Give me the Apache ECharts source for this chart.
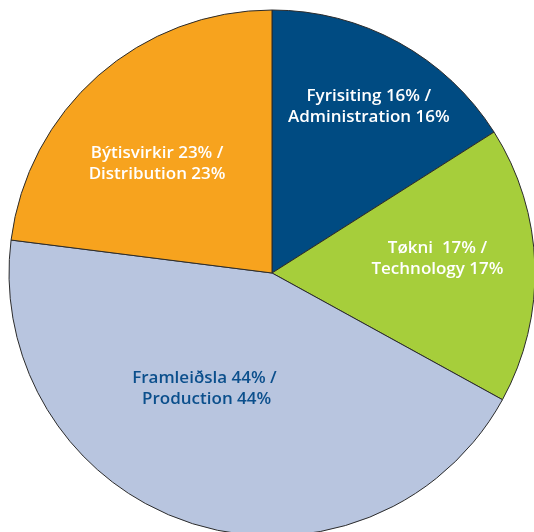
<!DOCTYPE html>
<html>
<head>
<meta charset="utf-8">
<script src="https://cdn.jsdelivr.net/npm/echarts@6/dist/echarts.min.js"></script>
<style>
html,body{margin:0;padding:0;background:#fff;}
#chart{width:534px;height:532px;}
</style>
</head>
<body>
<div id="chart"></div>
<script>
var namesFo = ['Fyrisiting', 'Tøkni ', 'Framleiðsla', 'Býtisvirkir'];
var namesEn = ['Administration', 'Technology', ' Production', 'Distribution'];
var values = [16, 17, 44, 23];
var colors = ['#004b82', '#a6ce3b', '#b8c5df', '#f7a31e'];
var textColors = ['#ffffff', '#ffffff', '#0b4f8c', '#ffffff'];
var labelShift = [[32, -48], [31, -10], [-26, -12], [-26, -8]];

var data = values.map(function (v, i) {
  return {
    value: v,
    name: namesFo[i] + ' ' + v + '% /\n' + namesEn[i] + ' ' + v + '%',
    itemStyle: { color: colors[i] },
    label: { color: textColors[i] }
  };
});

var chart = echarts.init(document.getElementById('chart'));
chart.setOption({
  animation: false,
  series: [{
    type: 'pie',
    center: [272, 273],
    radius: [0, 263],
    startAngle: 90,
    clockwise: true,
    data: data,
    itemStyle: { borderColor: '#2b2b2b', borderWidth: 1 },
    label: {
      show: true,
      position: 'inside',
      formatter: '{b}',
      fontFamily: 'Open Sans',
      fontSize: 17,
      fontWeight: 600,
      lineHeight: 21,
      align: 'center'
    },
    labelLine: { show: false },
    emphasis: { disabled: true },
    labelLayout: function (p) {
      var s = labelShift[p.dataIndex];
      return { dx: s[0], dy: s[1] };
    }
  }]
});
</script>
</body>
</html>
